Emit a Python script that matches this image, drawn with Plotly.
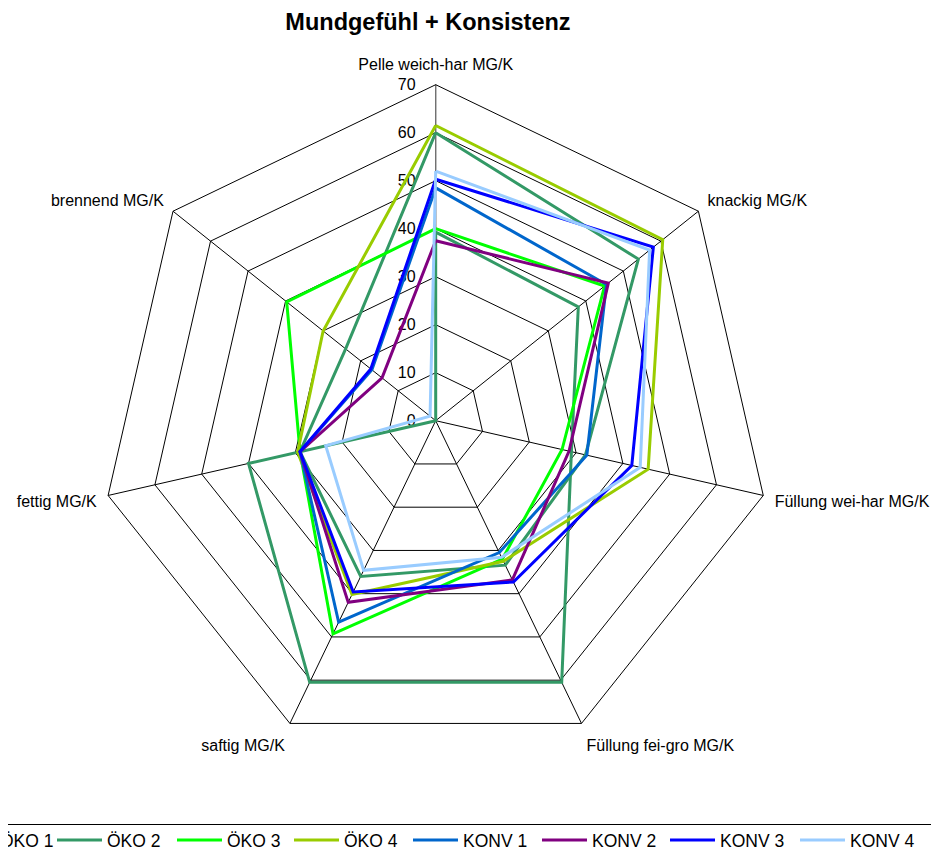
import plotly.graph_objects as go

categories = ["Pelle weich-har MG/K", "knackig MG/K", "Füllung wei-har MG/K",
              "Füllung fei-gro MG/K", "saftig MG/K", "fettig MG/K", "brennend MG/K"]

oeko1 = [39.3, 38.0, 29.0, 60.5, 60.5, 40.0, 0.0]
oeko2 = [60.0, 54.0, 32.0, 33.4, 36.0, 29.0, 24.0]
oeko3 = [40.0, 45.0, 27.0, 32.0, 49.3, 29.0, 39.7]
oeko4 = [61.5, 60.5, 45.4, 32.5, 40.2, 29.5, 30.0]
konv1 = [48.5, 45.5, 32.3, 30.5, 46.6, 29.0, 17.0]
konv2 = [37.5, 46.0, 28.5, 36.8, 42.0, 29.0, 14.3]
konv3 = [50.3, 58.0, 41.9, 37.3, 39.6, 29.0, 17.3]
konv4 = [52.0, 57.0, 43.7, 31.6, 34.6, 23.5, 1.5]

series_names = ["ÖKO 1", "ÖKO 2", "ÖKO 3", "ÖKO 4", "KONV 1", "KONV 2", "KONV 3", "KONV 4"]
series_values = [oeko1, oeko2, oeko3, oeko4, konv1, konv2, konv3, konv4]
series_colors = ["#339966", "#339966", "#00FF00", "#99CC00", "#0066CC", "#800080", "#0000FF", "#99CCFF"]
legend_widths = [60, 60, 57, 59, 69, 68, 70, 70]

W, H = 939, 853
OFF = 8  # page body margin offset
cx, cy, R = 435.7 - OFF, 420.7 - OFF, 336.0

fig = go.Figure()
for i, (name, vals, col) in enumerate(zip(series_names, series_values, series_colors)):
    fig.add_trace(go.Scatterpolar(
        r=vals + [vals[0]],
        theta=categories + [categories[0]],
        mode="lines",
        name=name,
        line=dict(color=col, width=3),
        legend="legend2" if i == 0 else "legend",
        legendwidth=legend_widths[i],
        hoverinfo="skip",
    ))

font_family = "Arial, Liberation Sans, sans-serif"

fig.update_layout(
    width=W, height=H,
    margin=dict(l=0, r=0, t=0, b=0, autoexpand=False),
    paper_bgcolor="white",
    font=dict(family=font_family, color="black"),
    title=dict(text="<b>Mundgefühl + Konsistenz</b>", x=(428 - OFF) / W, xanchor="center",
               y=1 - (22 - OFF) / H, yanchor="middle", font=dict(size=23.5, color="black")),
    polar=dict(
        domain=dict(x=[(cx - R) / W, (cx + R) / W], y=[1 - (cy + R) / H, 1 - (cy - R) / H]),
        gridshape="linear",
        bgcolor="white",
        angularaxis=dict(
            type="category", rotation=90, direction="clockwise",
            showline=True, linecolor="black", linewidth=1,
            showgrid=True, gridcolor="black", gridwidth=1,
            ticks="outside", ticklen=8, tickcolor="rgba(0,0,0,0)",
            tickfont=dict(size=16, color="black"),
        ),
        radialaxis=dict(
            range=[0, 70], dtick=10, tick0=0, angle=90, side="counterclockwise",
            tickangle=90,
            showline=True, linecolor="#808080", linewidth=1,
            showgrid=True, gridcolor="black", gridwidth=1,
            ticks="outside", ticklen=14, tickcolor="rgba(0,0,0,0)",
            tickfont=dict(size=16, color="black"), layer="below traces",
        ),
    ),
    legend=dict(orientation="h", xref="paper", yref="paper", x=(52 - OFF) / W, y=1 - (822 - OFF) / H,
                xanchor="left", yanchor="top", font=dict(size=17.5, color="black"),
                itemwidth=45, borderwidth=0, bgcolor="rgba(0,0,0,0)", traceorder="normal"),
    legend2=dict(orientation="h", xref="paper", yref="paper", x=(-55 - OFF) / W, y=1 - (822 - OFF) / H,
                 xanchor="left", yanchor="top", font=dict(size=17.5, color="black"),
                 itemwidth=45, borderwidth=0, bgcolor="rgba(0,0,0,0)"),
    shapes=[dict(type="rect", xref="paper", yref="paper", x0=-20 / W, x1=(936.5 - OFF) / W,
                 y0=-0.05, y1=1 - (824.5 - OFF) / H, line=dict(color="black", width=1),
                 fillcolor="rgba(0,0,0,0)", layer="below")],
    showlegend=True,
)

fig.write_html("out.html")
